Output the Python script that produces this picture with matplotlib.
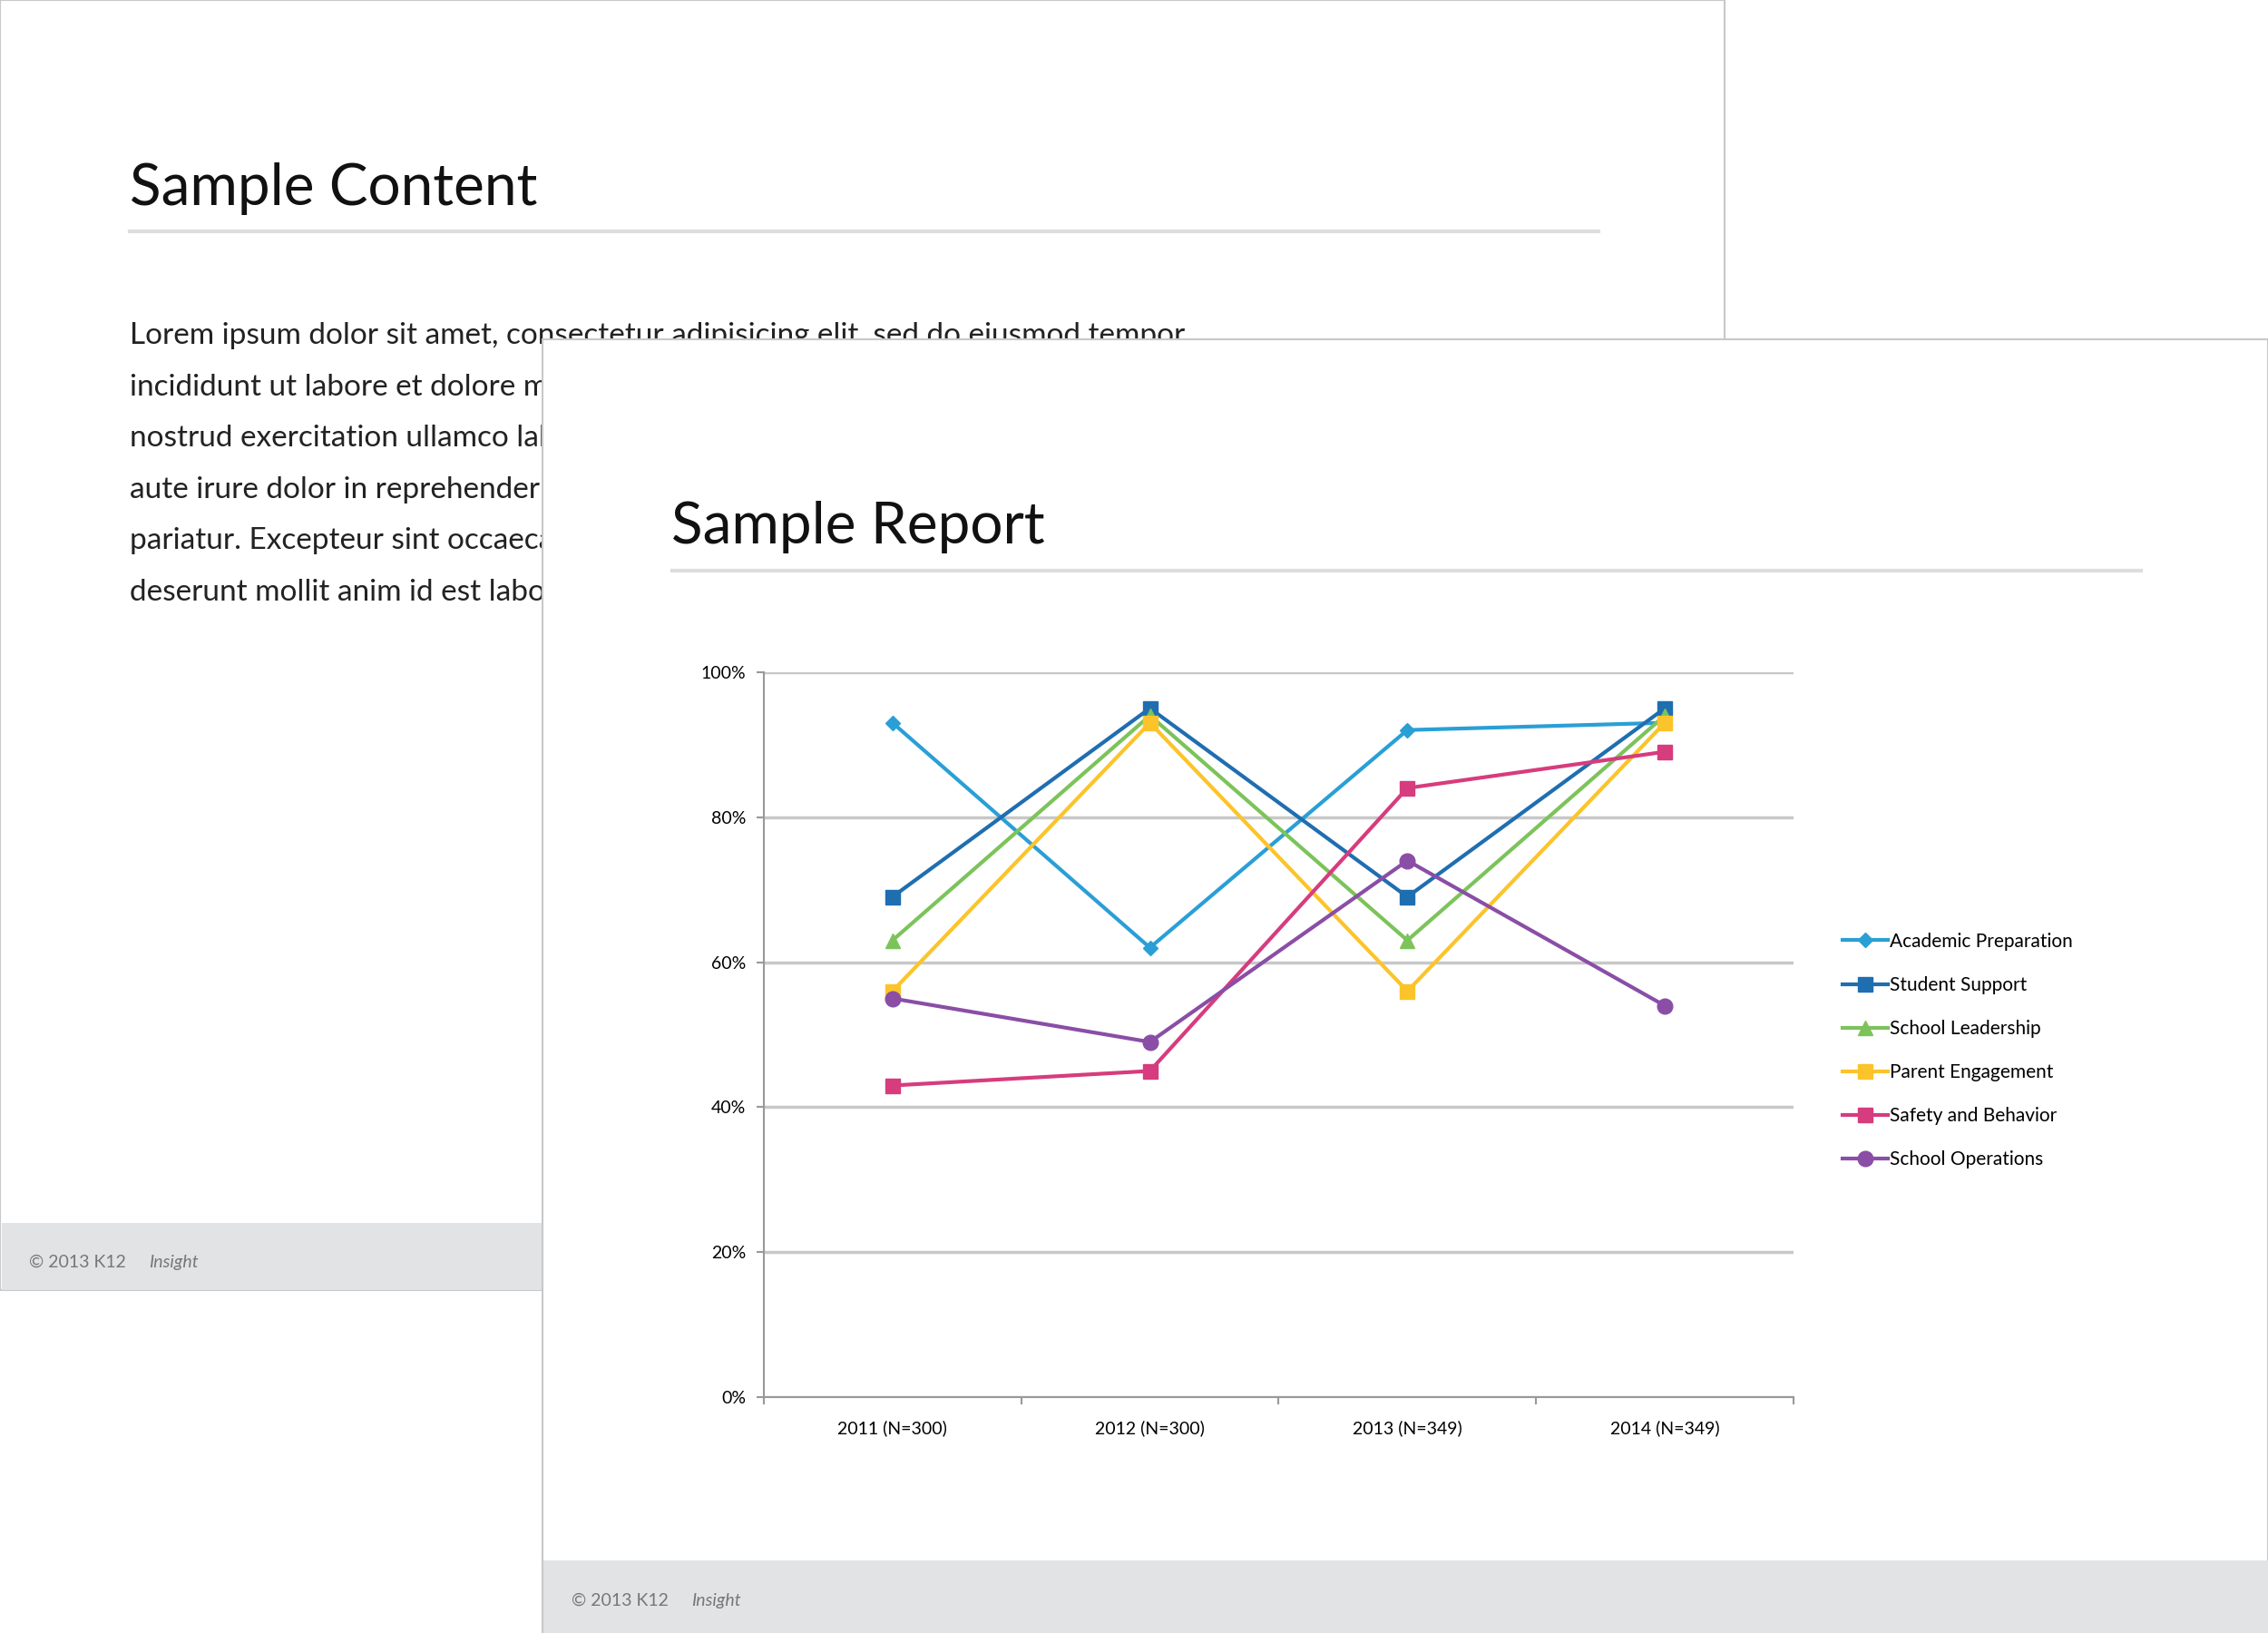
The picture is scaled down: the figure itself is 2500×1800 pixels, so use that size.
import matplotlib
matplotlib.use("Agg")
import matplotlib.pyplot as plt
from matplotlib.patches import Rectangle
from matplotlib.ticker import FixedLocator, FuncFormatter

categories = ["2011 (N=300)", "2012 (N=300)", "2013 (N=349)", "2014 (N=349)"]
series_names = ["Academic Preparation", "Student Support", "School Leadership",
                "Parent Engagement", "Safety and Behavior", "School Operations"]
academic = [93, 62, 92, 93]
support = [69, 95, 69, 95]
leadership = [63, 94, 63, 94]
parent = [56, 93, 56, 93]
safety = [43, 45, 84, 89]
operations = [55, 49, 74, 54]
values = [academic, support, leadership, parent, safety, operations]
colors = ["#2a9fd6", "#1f6eb0", "#7cc35a", "#fcc42a", "#d63c7e", "#8a4ea6"]
markers = ["D", "s", "^", "s", "s", "o"]
msizes = [8, 12, 12, 12, 12, 12]
yticks = [0, 20, 40, 60, 80, 100]

FONT = "Lato"
W, H = 1568.0, 1130.0
def fx(x): return x / W
def fy(y): return 1 - y / H

fig = plt.figure(figsize=(25, 18), dpi=100)
fig.patch.set_facecolor("white")

# back page
fig.add_artist(Rectangle((fx(0), fy(893)), fx(1192), 893 / H, transform=fig.transFigure,
                         facecolor="white", edgecolor="#c8c8c8", lw=1.5, zorder=1))
fig.add_artist(Rectangle((fx(1), fy(893)), fx(1190), 47 / H, transform=fig.transFigure,
                         facecolor="#e2e3e4", edgecolor="none", zorder=1.5))
fig.text(fx(90), fy(142), "Sample Content", fontsize=46, family=FONT, color="#111111", zorder=2)
fig.add_artist(plt.Line2D([fx(90), fx(1105)], [fy(160), fy(160)], transform=fig.transFigure,
                          color="#dddddd", lw=3, zorder=2))
body = ["Lorem ipsum dolor sit amet, consectetur adipisicing elit, sed do eiusmod tempor",
        "incididunt ut labore et dolore magna aliqua. Ut enim ad minim veniam, quis",
        "nostrud exercitation ullamco laboris nisi ut aliquip ex ea commodo consequat. Duis",
        "aute irure dolor in reprehenderit in voluptate velit esse cillum dolore eu fugiat nulla",
        "pariatur. Excepteur sint occaecat cupidatat non proident, sunt in culpa qui officia",
        "deserunt mollit anim id est laborum."]
for i, line in enumerate(body):
    fig.text(fx(90), fy(238 + i * 35.5), line, fontsize=24, family=FONT, color="#222222", zorder=2)
fig.text(fx(20), fy(877), "© 2013 K12 ", fontsize=14, family=FONT, color="#777777", zorder=2)
fig.text(fx(103), fy(877), "Insight", fontsize=14, family=FONT, style="italic", color="#777777", zorder=2)

# front page
fig.add_artist(Rectangle((fx(375), fy(1130)), fx(1193), 895 / H, transform=fig.transFigure,
                         facecolor="white", edgecolor="#c8c8c8", lw=1.5, zorder=3))
fig.add_artist(Rectangle((fx(376), fy(1130)), fx(1192), 50 / H, transform=fig.transFigure,
                         facecolor="#e2e3e4", edgecolor="none", zorder=3.5))
fig.text(fx(464), fy(376), "Sample Report", fontsize=46, family=FONT, color="#111111", zorder=4)
fig.add_artist(plt.Line2D([fx(465), fx(1480)], [fy(395), fy(395)], transform=fig.transFigure,
                          color="#dddddd", lw=3, zorder=4))
fig.text(fx(395), fy(1111), "© 2013 K12 ", fontsize=14, family=FONT, color="#777777", zorder=4)
fig.text(fx(478), fy(1111), "Insight", fontsize=14, family=FONT, style="italic", color="#777777", zorder=4)

ax = fig.add_axes([fx(528), fy(967), (1240 - 528) / W, (967 - 465) / H])
ax.set_zorder(5)
ax.patch.set_alpha(0)
x = list(range(len(categories)))
for name, vals, c, m, ms in zip(series_names, values, colors, markers, msizes):
    ax.plot(x, vals, color=c, lw=3, marker=m, markersize=ms, label=name)
ax.set_xlim(-0.5, 3.5)
ax.set_ylim(0, 100)
ax.set_yticks(yticks)
ax.yaxis.set_major_formatter(FuncFormatter(lambda v, p: f"{int(v)}%"))
ax.set_xticks(x)
ax.set_xticklabels(categories)
ax.xaxis.set_minor_locator(FixedLocator([-0.5, 0.5, 1.5, 2.5, 3.5]))
ax.tick_params(axis="x", which="major", length=0, pad=18, labelsize=14)
ax.tick_params(axis="x", which="minor", length=6, color="#999999", width=1.5)
ax.tick_params(axis="y", length=6, color="#999999", width=1.5, labelsize=14, pad=8)
for lab in ax.get_xticklabels() + ax.get_yticklabels():
    lab.set_family(FONT)
ax.grid(axis="y", color="#c8c8c8", lw=2.5)
ax.set_axisbelow(True)
for s in ["top", "right"]:
    ax.spines[s].set_visible(False)
for s in ["left", "bottom"]:
    ax.spines[s].set_color("#999999")
    ax.spines[s].set_linewidth(1.5)

leg = ax.legend(loc="center left", bbox_to_anchor=(fx(1262), fy(727)),
                bbox_transform=fig.transFigure, frameon=False, prop={"family": FONT, "size": 15},
                handlelength=2.4, handletextpad=0.1, labelspacing=1.35)

fig.savefig("out.png", dpi=100)
